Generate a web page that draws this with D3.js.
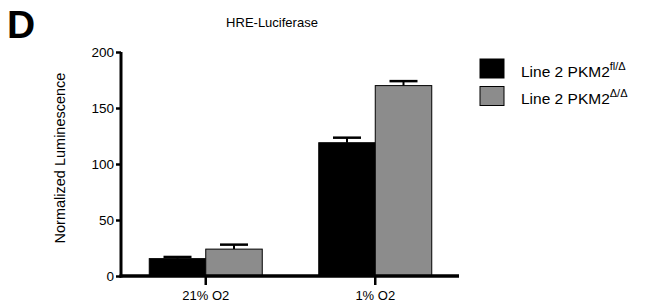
<!DOCTYPE html>
<html>
<head>
<meta charset="utf-8">
<script src="https://cdn.jsdelivr.net/npm/d3@7"></script>
<style>
  body { margin: 0; background: #fff; }
  text { font-family: "Liberation Sans", Arial, sans-serif; fill: #000; }
</style>
</head>
<body>
<div id="chart"></div>
<script>
var conditions = ['21% O2', '1% O2'];
var seriesNames = ['fl/\u0394', '\u0394/\u0394'];
var seriesColors = ['#000000', '#8c8c8c'];
var flValues = [15.5, 119];
var flErrors = [1.5, 4.5];
var deltaValues = [24, 170];
var deltaErrors = [4, 4];
var yTicks = [0, 50, 100, 150, 200];

var margin = {left: 121, right: 202, top: 52, bottom: 32},
    width = 662 - margin.left - margin.right,
    height = 308 - margin.top - margin.bottom;

var svg = d3.select('#chart')
    .append('svg')
    .attr('width', 662)
    .attr('height', 308);

var g = svg.append('g')
    .attr('transform', `translate(${margin.left},${margin.top})`);

var x = d3.scaleBand()
    .domain(conditions)
    .range([0, width])
    .paddingInner(1 / 3)
    .paddingOuter(1 / 6);

var xSub = d3.scaleBand()
    .domain([0, 1])
    .range([0, x.bandwidth()]);

var y = d3.scaleLinear()
    .domain([0, 200])
    .range([height, 0]);

var data = [];
conditions.forEach(function(c, i) {
    data.push({cond: c, s: 0, v: flValues[i], e: flErrors[i]});
    data.push({cond: c, s: 1, v: deltaValues[i], e: deltaErrors[i]});
});

// bars
g.selectAll('.bar')
    .data(data).enter()
    .append('rect')
    .attr('class', 'bar')
    .attr('x', function(d) { return x(d.cond) + xSub(d.s); })
    .attr('y', function(d) { return y(d.v); })
    .attr('width', xSub.bandwidth())
    .attr('height', function(d) { return height - y(d.v); })
    .attr('fill', function(d) { return seriesColors[d.s]; })
    .attr('stroke', '#000')
    .attr('stroke-width', 1);

// error bars (upper only)
var err = g.selectAll('.err')
    .data(data).enter()
    .append('g')
    .attr('class', 'err')
    .attr('transform', function(d) {
        return `translate(${x(d.cond) + xSub(d.s) + xSub.bandwidth() / 2},0)`;
    });

err.append('line')
    .attr('x1', 0).attr('x2', 0)
    .attr('y1', function(d) { return y(d.v); })
    .attr('y2', function(d) { return y(d.v + d.e); })
    .attr('stroke', '#000')
    .attr('stroke-width', 2);

err.append('line')
    .attr('x1', -14).attr('x2', 14)
    .attr('y1', function(d) { return y(d.v + d.e); })
    .attr('y2', function(d) { return y(d.v + d.e); })
    .attr('stroke', '#000')
    .attr('stroke-width', 2.5);

// axes
var yAxis = d3.axisLeft(y).tickValues(yTicks).tickSize(5).tickPadding(2);
var yg = g.append('g').call(yAxis);
yg.select('.domain').attr('stroke-width', 3).attr('d', `M0,${height + 1.5}V0`);
yg.selectAll('.tick line').attr('stroke-width', 2.5);
yg.selectAll('.tick text').style('font-size', '13.5px');

var xAxis = d3.axisBottom(x).tickSize(9).tickPadding(6);
var xg = g.append('g')
    .attr('transform', `translate(0,${height})`)
    .call(xAxis);
xg.select('.domain').attr('stroke-width', 3.5).attr('d', `M-1.5,0H${width - 1}`);
xg.selectAll('.tick line').attr('stroke-width', 2.5);
xg.selectAll('.tick text').style('font-size', '13px');

// title
svg.append('text')
    .attr('x', 272)
    .attr('y', 27)
    .attr('text-anchor', 'middle')
    .style('font-size', '13px')
    .text('HRE-Luciferase');

// panel letter
svg.append('text')
    .attr('x', 7)
    .attr('y', 38)
    .style('font-size', '39px')
    .style('font-weight', 'bold')
    .text('D');

// y label
svg.append('text')
    .attr('transform', 'translate(65,158) rotate(-90)')
    .attr('text-anchor', 'middle')
    .style('font-size', '14.5px')
    .text('Normalized Luminescence');

// legend
var legend = svg.selectAll('.legend')
    .data(seriesNames).enter()
    .append('g')
    .attr('class', 'legend')
    .attr('transform', function(d, i) { return `translate(480,${59 + i * 27.5})`; });

legend.append('rect')
    .attr('width', 24)
    .attr('height', 19)
    .attr('fill', function(d, i) { return seriesColors[i]; })
    .attr('stroke', '#000')
    .attr('stroke-width', 1);

var lt = legend.append('text')
    .attr('x', 41)
    .attr('y', 17.5)
    .style('font-size', '15.5px');
lt.append('tspan').text('Line 2 PKM2');
lt.append('tspan')
    .attr('dy', -7)
    .style('font-size', '11px')
    .text(function(d) { return d; });
</script>
</body>
</html>
